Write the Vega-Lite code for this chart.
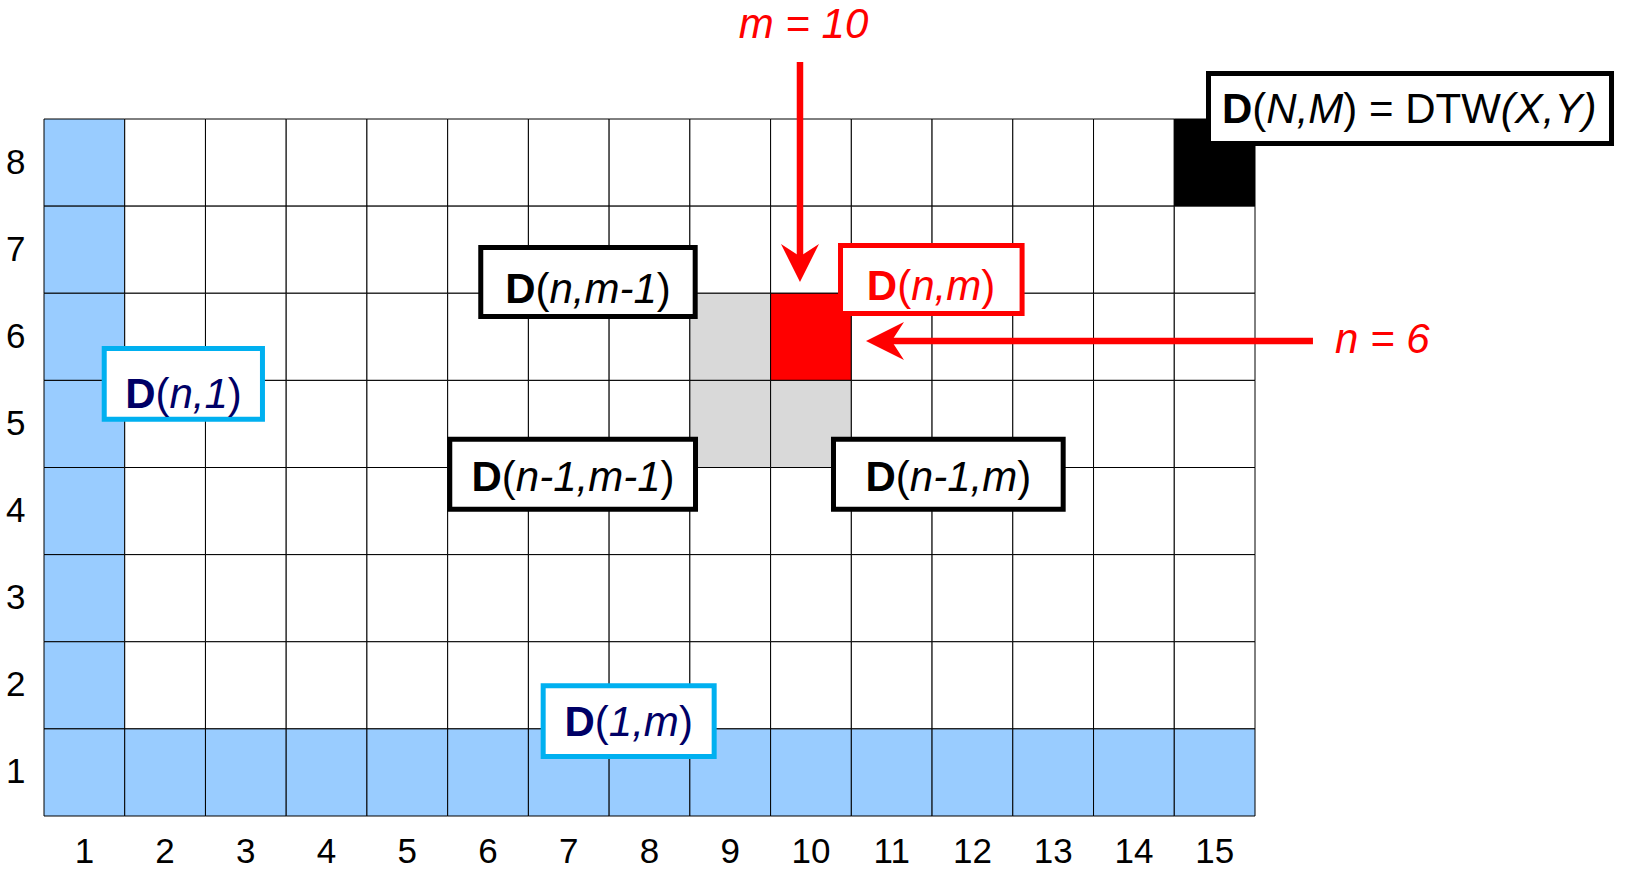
{
  "$schema": "https://vega.github.io/schema/vega-lite/v6.json",
  "width": 1211,
  "height": 697,
  "autosize": {"type": "none"},
  "padding": {"left": 44, "top": 119, "right": 381, "bottom": 54},
  "background": "white",
  "config": {"view": {"stroke": null}, "font": "Liberation Sans"},
  "datasets": {
    "cells": [
      {"c":1,"r":8,"k":"b"},{"c":2,"r":8,"k":"w"},{"c":3,"r":8,"k":"w"},{"c":4,"r":8,"k":"w"},{"c":5,"r":8,"k":"w"},{"c":6,"r":8,"k":"w"},{"c":7,"r":8,"k":"w"},{"c":8,"r":8,"k":"w"},{"c":9,"r":8,"k":"w"},{"c":10,"r":8,"k":"w"},{"c":11,"r":8,"k":"w"},{"c":12,"r":8,"k":"w"},{"c":13,"r":8,"k":"w"},{"c":14,"r":8,"k":"w"},{"c":15,"r":8,"k":"x"},
      {"c":1,"r":7,"k":"b"},{"c":2,"r":7,"k":"w"},{"c":3,"r":7,"k":"w"},{"c":4,"r":7,"k":"w"},{"c":5,"r":7,"k":"w"},{"c":6,"r":7,"k":"w"},{"c":7,"r":7,"k":"w"},{"c":8,"r":7,"k":"w"},{"c":9,"r":7,"k":"w"},{"c":10,"r":7,"k":"w"},{"c":11,"r":7,"k":"w"},{"c":12,"r":7,"k":"w"},{"c":13,"r":7,"k":"w"},{"c":14,"r":7,"k":"w"},{"c":15,"r":7,"k":"w"},
      {"c":1,"r":6,"k":"b"},{"c":2,"r":6,"k":"w"},{"c":3,"r":6,"k":"w"},{"c":4,"r":6,"k":"w"},{"c":5,"r":6,"k":"w"},{"c":6,"r":6,"k":"w"},{"c":7,"r":6,"k":"w"},{"c":8,"r":6,"k":"w"},{"c":9,"r":6,"k":"g"},{"c":10,"r":6,"k":"r"},{"c":11,"r":6,"k":"w"},{"c":12,"r":6,"k":"w"},{"c":13,"r":6,"k":"w"},{"c":14,"r":6,"k":"w"},{"c":15,"r":6,"k":"w"},
      {"c":1,"r":5,"k":"b"},{"c":2,"r":5,"k":"w"},{"c":3,"r":5,"k":"w"},{"c":4,"r":5,"k":"w"},{"c":5,"r":5,"k":"w"},{"c":6,"r":5,"k":"w"},{"c":7,"r":5,"k":"w"},{"c":8,"r":5,"k":"w"},{"c":9,"r":5,"k":"g"},{"c":10,"r":5,"k":"g"},{"c":11,"r":5,"k":"w"},{"c":12,"r":5,"k":"w"},{"c":13,"r":5,"k":"w"},{"c":14,"r":5,"k":"w"},{"c":15,"r":5,"k":"w"},
      {"c":1,"r":4,"k":"b"},{"c":2,"r":4,"k":"w"},{"c":3,"r":4,"k":"w"},{"c":4,"r":4,"k":"w"},{"c":5,"r":4,"k":"w"},{"c":6,"r":4,"k":"w"},{"c":7,"r":4,"k":"w"},{"c":8,"r":4,"k":"w"},{"c":9,"r":4,"k":"w"},{"c":10,"r":4,"k":"w"},{"c":11,"r":4,"k":"w"},{"c":12,"r":4,"k":"w"},{"c":13,"r":4,"k":"w"},{"c":14,"r":4,"k":"w"},{"c":15,"r":4,"k":"w"},
      {"c":1,"r":3,"k":"b"},{"c":2,"r":3,"k":"w"},{"c":3,"r":3,"k":"w"},{"c":4,"r":3,"k":"w"},{"c":5,"r":3,"k":"w"},{"c":6,"r":3,"k":"w"},{"c":7,"r":3,"k":"w"},{"c":8,"r":3,"k":"w"},{"c":9,"r":3,"k":"w"},{"c":10,"r":3,"k":"w"},{"c":11,"r":3,"k":"w"},{"c":12,"r":3,"k":"w"},{"c":13,"r":3,"k":"w"},{"c":14,"r":3,"k":"w"},{"c":15,"r":3,"k":"w"},
      {"c":1,"r":2,"k":"b"},{"c":2,"r":2,"k":"w"},{"c":3,"r":2,"k":"w"},{"c":4,"r":2,"k":"w"},{"c":5,"r":2,"k":"w"},{"c":6,"r":2,"k":"w"},{"c":7,"r":2,"k":"w"},{"c":8,"r":2,"k":"w"},{"c":9,"r":2,"k":"w"},{"c":10,"r":2,"k":"w"},{"c":11,"r":2,"k":"w"},{"c":12,"r":2,"k":"w"},{"c":13,"r":2,"k":"w"},{"c":14,"r":2,"k":"w"},{"c":15,"r":2,"k":"w"},
      {"c":1,"r":1,"k":"b"},{"c":2,"r":1,"k":"b"},{"c":3,"r":1,"k":"b"},{"c":4,"r":1,"k":"b"},{"c":5,"r":1,"k":"b"},{"c":6,"r":1,"k":"b"},{"c":7,"r":1,"k":"b"},{"c":8,"r":1,"k":"b"},{"c":9,"r":1,"k":"b"},{"c":10,"r":1,"k":"b"},{"c":11,"r":1,"k":"b"},{"c":12,"r":1,"k":"b"},{"c":13,"r":1,"k":"b"},{"c":14,"r":1,"k":"b"},{"c":15,"r":1,"k":"b"}
    ],
    "boxes": [
      {"x":5.910,"x2":8.566,"y":7.025,"y2":6.233,"g":"k"},
      {"x":10.366,"x2":12.615,"y":7.048,"y2":6.268,"g":"r"},
      {"x":1.246,"x2":3.206,"y":5.866,"y2":5.054,"g":"c"},
      {"x":5.526,"x2":8.570,"y":4.825,"y2":4.021,"g":"k"},
      {"x":10.279,"x2":13.124,"y":4.825,"y2":4.021,"g":"k"},
      {"x":6.683,"x2":8.801,"y":1.994,"y2":1.183,"g":"c"},
      {"x":14.924,"x2":19.916,"y":9.022,"y2":8.219,"g":"k"}
    ],
    "bold": [
      {"t":"D","x":6.212,"y":6.385,"g":"k"},
      {"t":"D","x":10.692,"y":6.417,"g":"r"},
      {"t":"D","x":1.505,"y":5.183,"g":"n"},
      {"t":"D","x":5.795,"y":4.230,"g":"k"},
      {"t":"D","x":10.675,"y":4.230,"g":"k"},
      {"t":"D","x":6.948,"y":1.418,"g":"n"},
      {"t":"D","x":15.091,"y":8.451,"g":"k"}
    ],
    "reg": [
      {"t":"(","x":6.588,"y":6.385,"g":"k"},{"t":")","x":8.091,"y":6.385,"g":"k"},
      {"t":"(","x":11.068,"y":6.417,"g":"r"},{"t":")","x":12.108,"y":6.417,"g":"r"},
      {"t":"(","x":1.881,"y":5.183,"g":"n"},{"t":")","x":2.777,"y":5.183,"g":"n"},
      {"t":"(","x":6.171,"y":4.230,"g":"k"},{"t":")","x":8.136,"y":4.230,"g":"k"},
      {"t":"(","x":11.051,"y":4.230,"g":"k"},{"t":")","x":12.554,"y":4.230,"g":"k"},
      {"t":"(","x":7.323,"y":1.418,"g":"n"},{"t":")","x":8.364,"y":1.418,"g":"n"},
      {"t":"(","x":15.467,"y":8.451,"g":"k"},{"t":") = DTW","x":16.594,"y":8.451,"g":"k"}
    ],
    "ital": [
      {"t":"n,m-1","x":6.761,"y":6.385,"g":"k"},
      {"t":"n,m","x":11.241,"y":6.417,"g":"r"},
      {"t":"n,1","x":2.054,"y":5.183,"g":"n"},
      {"t":"n-1,m-1","x":6.344,"y":4.230,"g":"k"},
      {"t":"n-1,m","x":11.224,"y":4.230,"g":"k"},
      {"t":"1,m","x":7.496,"y":1.418,"g":"n"},
      {"t":"N,M","x":15.640,"y":8.451,"g":"k"},
      {"t":"(X,Y)","x":18.545,"y":8.451,"g":"k"},
      {"t":"m = 10","x":9.105,"y":9.424,"g":"r"},
      {"t":"n = 6","x":16.491,"y":5.811,"g":"r"}
    ],
    "shafts": [
      {"x":9.864,"y":9.154,"x2":9.864,"y2":6.824},
      {"x":16.218,"y":5.952,"x2":10.929,"y2":5.952}
    ],
    "heads": [
      {"x":9.864,"y":6.847,"d":"down"},
      {"x":10.917,"y":5.952,"d":"left"}
    ]
  },
  "resolve": {"scale": {"x": "independent", "y": "independent", "color": "independent", "fill": "independent", "stroke": "independent"}},
  "layer": [
    {
      "data": {"name": "cells"},
      "mark": {"type": "rect", "stroke": "#000000", "strokeWidth": 1},
      "encoding": {
        "x": {"field": "c", "type": "ordinal", "scale": {"paddingInner": 0, "paddingOuter": 0},
              "axis": {"title": null, "labelAngle": 0, "labelFontSize": 35, "labelColor": "#000000", "labelFont": "Liberation Sans", "ticks": false, "domain": false, "grid": false, "labelPadding": 18}},
        "y": {"field": "r", "type": "ordinal", "sort": "descending", "scale": {"paddingInner": 0, "paddingOuter": 0},
              "axis": {"title": null, "labelFontSize": 35, "labelColor": "#000000", "labelFont": "Liberation Sans", "ticks": false, "domain": false, "grid": false, "labelPadding": 19}},
        "fill": {"field": "k", "type": "nominal", "scale": {"domain": ["w", "b", "g", "r", "x"], "range": ["#FFFFFF", "#99CCFF", "#D9D9D9", "#FF0000", "#000000"]}, "legend": null}
      }
    },
    {
      "layer": [
        {
          "data": {"name": "boxes"},
          "mark": {"type": "rect", "fill": "#FFFFFF", "strokeWidth": 5},
          "encoding": {
            "x": {"field": "x", "type": "quantitative", "scale": {"domain": [0.5, 15.5], "nice": false, "zero": false}, "axis": null},
            "x2": {"field": "x2"},
            "y": {"field": "y", "type": "quantitative", "scale": {"domain": [0.5, 8.5], "nice": false, "zero": false}, "axis": null},
            "y2": {"field": "y2"},
            "stroke": {"field": "g", "type": "nominal", "scale": {"domain": ["k", "r", "c"], "range": ["#000000", "#FF0000", "#00B0F0"]}, "legend": null}
          }
        },
        {
          "data": {"name": "bold"},
          "mark": {"type": "text", "fontSize": 42, "fontWeight": "bold", "align": "left", "baseline": "alphabetic", "font": "Liberation Sans"},
          "encoding": {
            "x": {"field": "x", "type": "quantitative", "scale": {"domain": [0.5, 15.5], "nice": false, "zero": false}, "axis": null},
            "y": {"field": "y", "type": "quantitative", "scale": {"domain": [0.5, 8.5], "nice": false, "zero": false}, "axis": null},
            "text": {"field": "t"},
            "color": {"field": "g", "type": "nominal", "scale": {"domain": ["k", "r", "n"], "range": ["#000000", "#FF0000", "#000066"]}, "legend": null}
          }
        },
        {
          "data": {"name": "reg"},
          "mark": {"type": "text", "fontSize": 42, "align": "left", "baseline": "alphabetic", "font": "Liberation Sans"},
          "encoding": {
            "x": {"field": "x", "type": "quantitative", "scale": {"domain": [0.5, 15.5], "nice": false, "zero": false}, "axis": null},
            "y": {"field": "y", "type": "quantitative", "scale": {"domain": [0.5, 8.5], "nice": false, "zero": false}, "axis": null},
            "text": {"field": "t"},
            "color": {"field": "g", "type": "nominal", "scale": {"domain": ["k", "r", "n"], "range": ["#000000", "#FF0000", "#000066"]}, "legend": null}
          }
        },
        {
          "data": {"name": "ital"},
          "mark": {"type": "text", "fontSize": 42, "fontStyle": "italic", "align": "left", "baseline": "alphabetic", "font": "Liberation Sans"},
          "encoding": {
            "x": {"field": "x", "type": "quantitative", "scale": {"domain": [0.5, 15.5], "nice": false, "zero": false}, "axis": null},
            "y": {"field": "y", "type": "quantitative", "scale": {"domain": [0.5, 8.5], "nice": false, "zero": false}, "axis": null},
            "text": {"field": "t"},
            "color": {"field": "g", "type": "nominal", "scale": {"domain": ["k", "r", "n"], "range": ["#000000", "#FF0000", "#000066"]}, "legend": null}
          }
        },
        {
          "data": {"name": "shafts"},
          "mark": {"type": "rule", "color": "#FF0000", "strokeWidth": 6.5},
          "encoding": {
            "x": {"field": "x", "type": "quantitative", "scale": {"domain": [0.5, 15.5], "nice": false, "zero": false}, "axis": null},
            "x2": {"field": "x2"},
            "y": {"field": "y", "type": "quantitative", "scale": {"domain": [0.5, 8.5], "nice": false, "zero": false}, "axis": null},
            "y2": {"field": "y2"}
          }
        },
        {
          "data": {"name": "heads"},
          "mark": {"type": "point", "filled": true, "color": "#FF0000", "opacity": 1, "size": 1444, "strokeWidth": 0},
          "encoding": {
            "x": {"field": "x", "type": "quantitative", "scale": {"domain": [0.5, 15.5], "nice": false, "zero": false}, "axis": null},
            "y": {"field": "y", "type": "quantitative", "scale": {"domain": [0.5, 8.5], "nice": false, "zero": false}, "axis": null},
            "shape": {"field": "d", "type": "nominal", "scale": {"domain": ["down", "left"], "range": ["M0,1L-1,-1L0,-0.35L1,-1Z", "M-1,0L1,-1L0.35,0L1,1Z"]}, "legend": null}
          }
        }
      ]
    }
  ]
}
